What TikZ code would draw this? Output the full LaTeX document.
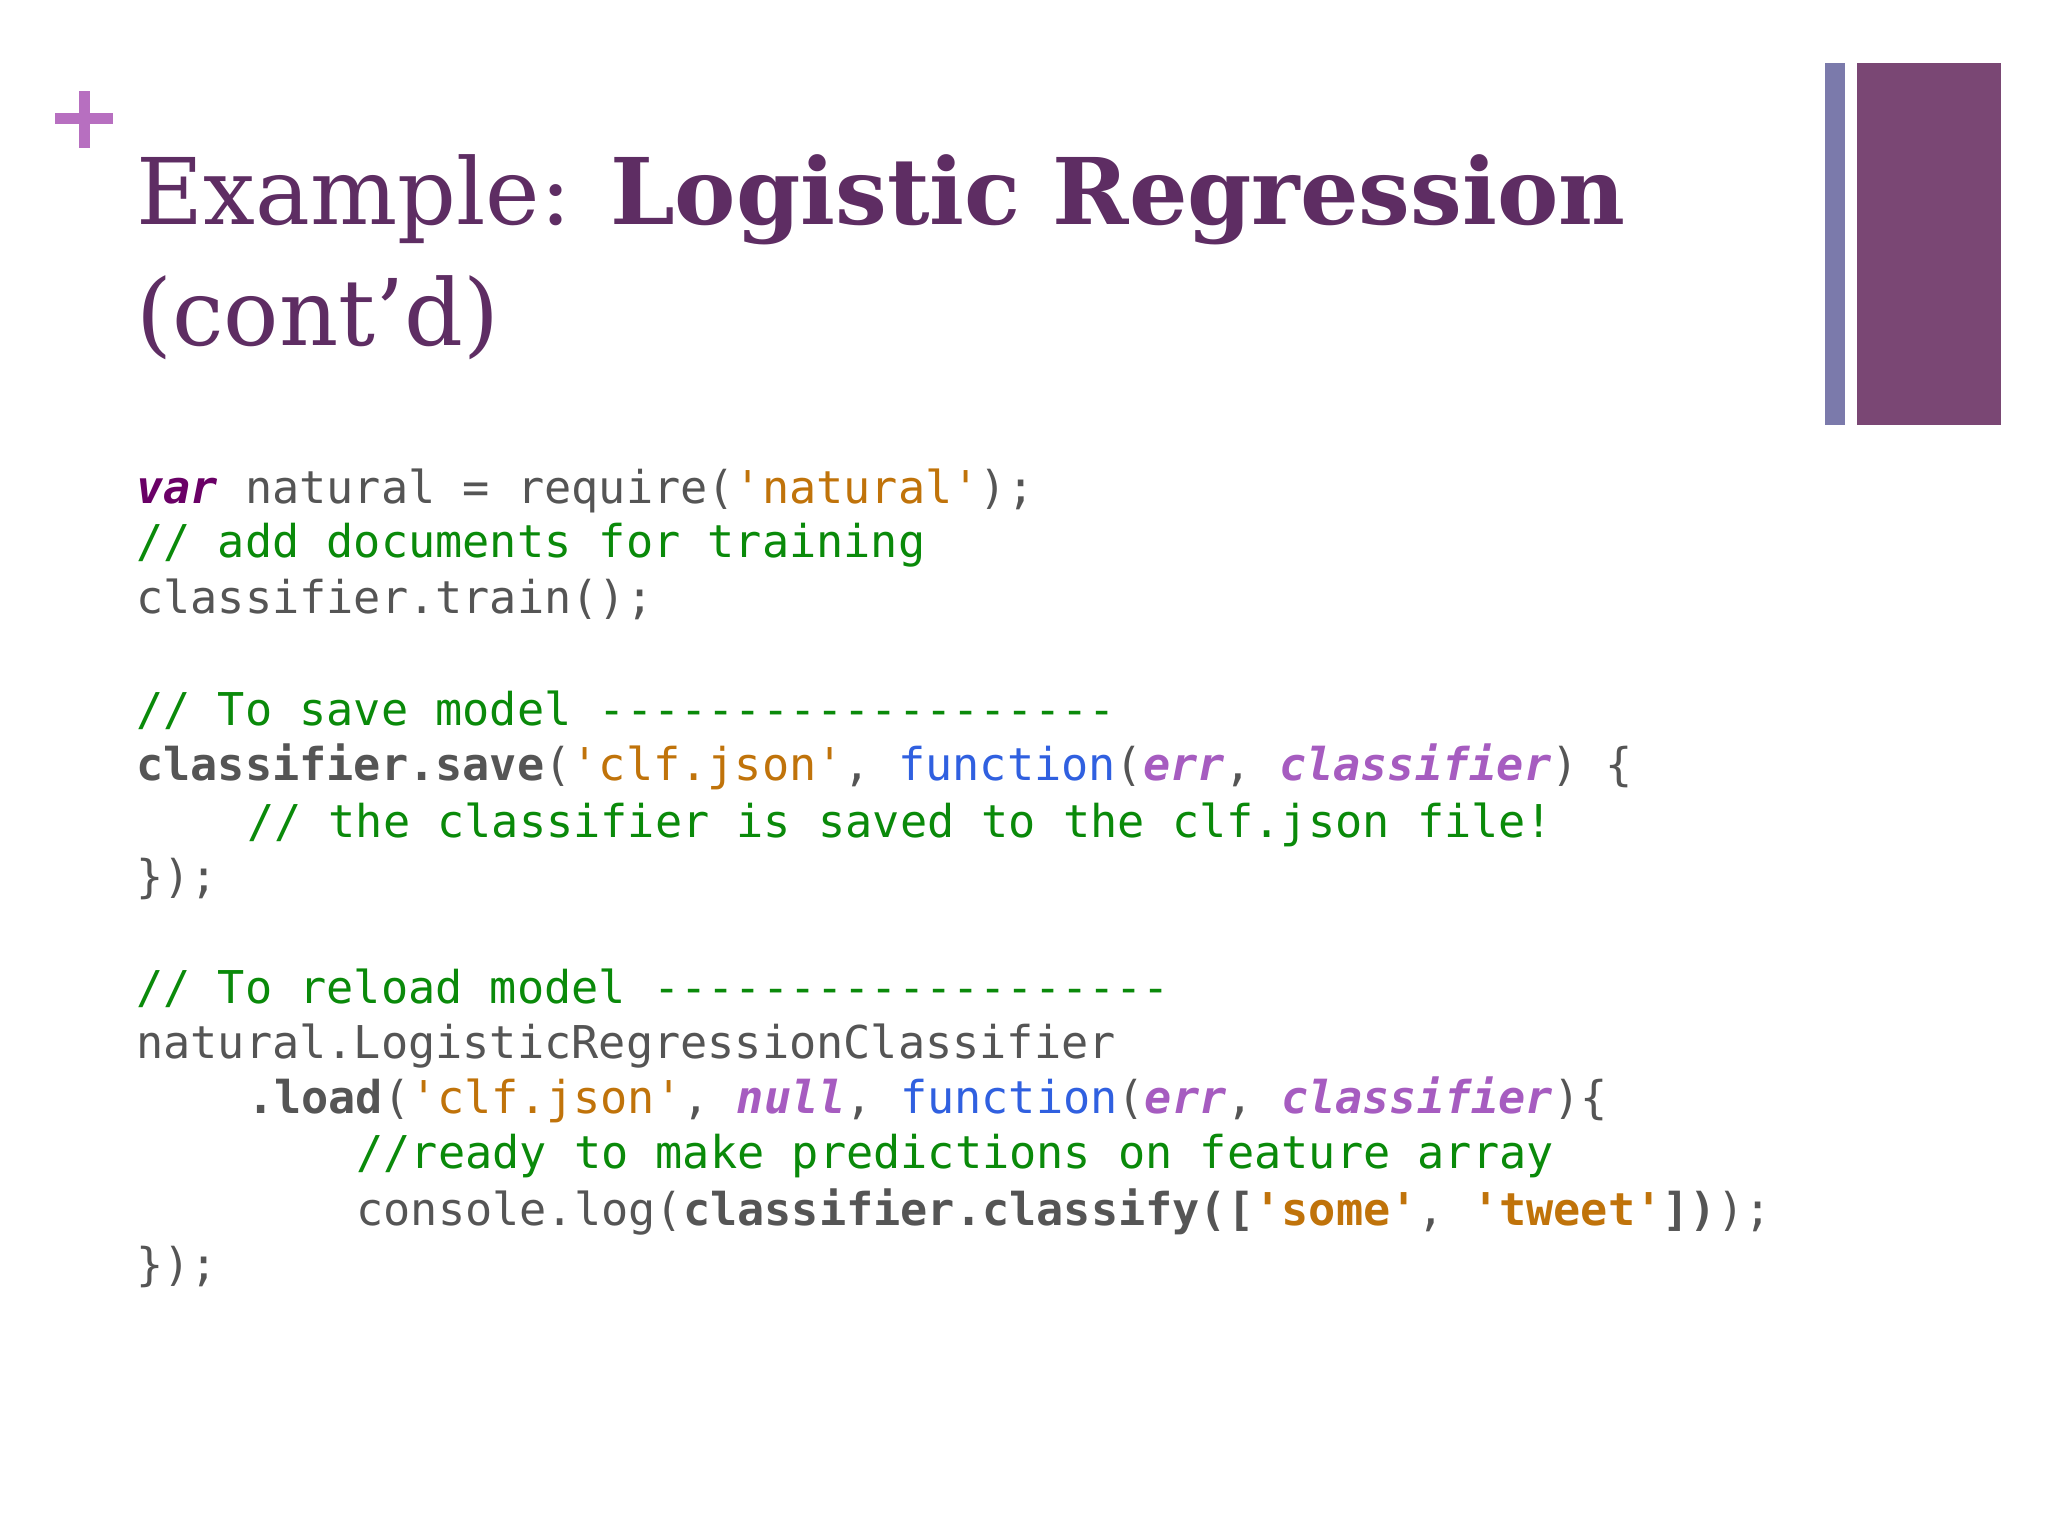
\documentclass[tikz,border=0pt]{standalone}
\usepackage{fontspec}
\newfontfamily\code{DejaVu Sans Mono}
\newfontfamily\ttl{DejaVu Serif}
\definecolor{ttlc}{HTML}{5E2D63}
\definecolor{plus}{HTML}{B76FC0}
\definecolor{barA}{HTML}{7B7AAB}
\definecolor{barB}{HTML}{7A4774}
\definecolor{kwc}{HTML}{6A0066}
\definecolor{strc}{HTML}{C0730A}
\definecolor{cmc}{HTML}{0A8A0A}
\definecolor{fnc}{HTML}{3060E0}
\definecolor{arc}{HTML}{A65CC0}
\definecolor{plc}{HTML}{555555}
\newcommand\kw[1]{\textcolor{kwc}{\bfseries\itshape #1}}
\newcommand\str[1]{\textcolor{strc}{#1}}
\newcommand\strb[1]{\textcolor{strc}{\bfseries #1}}
\newcommand\cm[1]{\textcolor{cmc}{#1}}
\newcommand\fn[1]{\textcolor{fnc}{#1}}
\newcommand\ar[1]{\textcolor{arc}{\bfseries\itshape #1}}
\newcommand\bd[1]{{\bfseries #1}}
\begin{document}
\begin{tikzpicture}[x=0.6594pt,y=-0.6594pt,
  cl/.style={anchor=base west,inner sep=0pt,font=\code\fontsize{22.6}{26}\selectfont,text=plc},
  tl/.style={anchor=base west,inner sep=0pt,font=\ttl\fontsize{46}{56}\selectfont,text=ttlc}]
\useasboundingbox (0,0) rectangle (1553,1165);
\fill[white] (0,0) rectangle (1553,1165);
\fill[barA] (1384,48) rectangle (1399,322);
\fill[barB] (1408,48) rectangle (1517,322);
\fill[plus] (42,86) rectangle (86,94);
\fill[plus] (60,69) rectangle (68,112);
\node[tl] (t1) at (103,170) {Example: \bfseries Logistic Regression};
\node[tl] (t2) at (103,262) {(cont’d)};
\node[cl] (l1) at (103,382) {\kw{var} natural = require(\str{'natural'});};
\node[cl] (l2) at (103,423) {\cm{// add documents for training}};
\node[cl] (l3) at (103,465) {classifier.train();};
\node[cl] (l4) at (103,550) {\cm{// To save model -------------------}};
\node[cl] (l5) at (103,592) {\bd{classifier.save}(\str{'clf.json'}, \fn{function}(\ar{err}, \ar{classifier}) \{};
\node[cl] (l6) at (187,635) {\cm{// the classifier is saved to the clf.json file!}};
\node[cl] (l7) at (103,677) {\});};
\node[cl] (l8) at (103,761) {\cm{// To reload model -------------------}};
\node[cl] (l9) at (103,803) {natural.LogisticRegressionClassifier};
\node[cl] (l10) at (187,844) {\bd{.load}(\str{'clf.json'}, \ar{null}, \fn{function}(\ar{err}, \ar{classifier})\{};
\node[cl] (l11) at (270,886) {\cm{//ready to make predictions on feature array}};
\node[cl] (l12) at (270,929) {console.log(\bd{classifier.classify([}\strb{'some'}, \strb{'tweet'}\bd{])});};
\node[cl] (l13) at (103,971) {\});};
\end{tikzpicture}
\end{document}
